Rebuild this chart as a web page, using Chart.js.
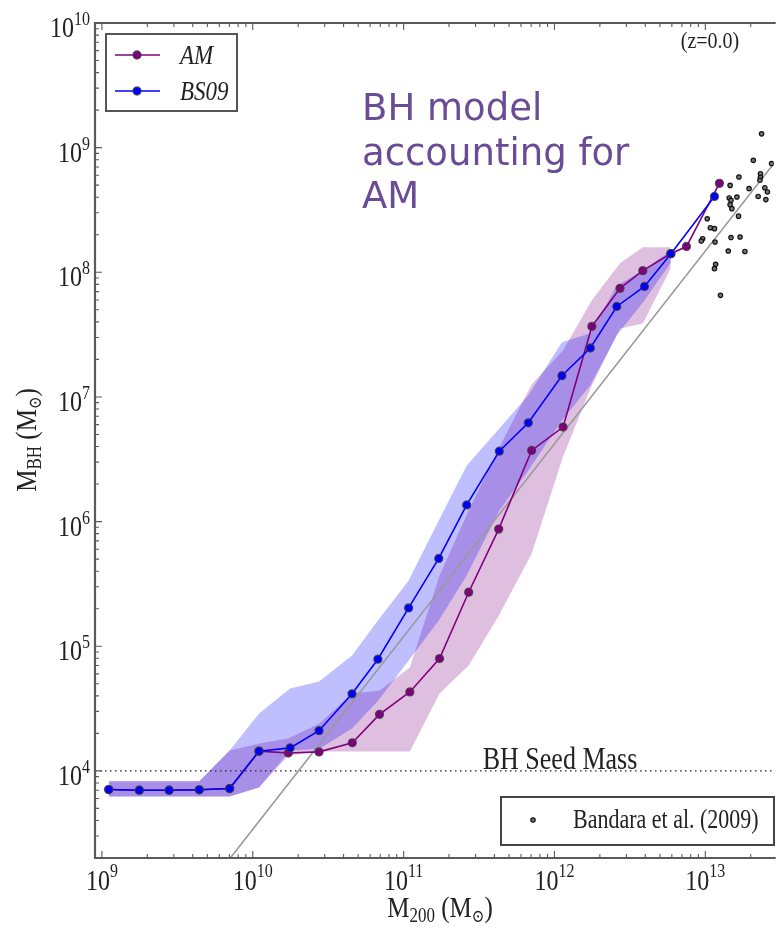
<!DOCTYPE html>
<html>
<head>
<meta charset="utf-8">
<script src="https://cdn.jsdelivr.net/npm/chart.js@4.4.0/dist/chart.umd.min.js"></script>
<style>
  html, body { margin: 0; padding: 0; background: #fff; }
  #wrap { position: relative; width: 779px; height: 929px; }
</style>
</head>
<body>
<div id="wrap"><canvas id="bhChart" width="779" height="929"></canvas></div>
<script>
// AM model (purple): halo mass, BH mass, and the shaded spread
const amMass = [1.11e9, 1.77e9, 2.79e9, 4.42e9, 7.03e9, 1.10e10, 1.72e10, 2.75e10, 4.57e10, 6.92e10, 1.10e11,
    1.73e11, 2.70e11, 4.27e11, 7.06e11, 1.14e12, 1.77e12, 2.72e12, 3.85e12, 5.89e12, 7.50e12, 1.24e13];
const amBH = [7080, 7000, 7000, 7050, 7210, 14400, 13900, 14200, 16800, 28400, 43000,
    79600, 2.71e5, 8.7e5, 3.72e6, 5.73e6, 3.68e7, 7.43e7, 1.03e8, 1.41e8, 1.61e8, 5.17e8];
const amLow = [6220, 6220, 6220, 6220, 6220, 7350, 13300, 14300, 14300, 14300, 14300,
    41700, 70000, 1.76e5, 5.53e5, 3.33e6, 1.24e7, 3.54e7, 3.88e7, 1.07e8];
const amHigh = [8260, 8260, 8260, 8260, 14600, 16600, 18200, 23900, 41700, 44100, 67500,
    3.69e5, 1.23e6, 3.86e6, 1.26e7, 2.37e7, 5.96e7, 1.18e8, 1.59e8, 1.59e8];

// BS09 model (blue)
const bsMass = [1.11e9, 1.77e9, 2.79e9, 4.42e9, 7.03e9, 1.10e10, 1.77e10, 2.75e10, 4.55e10, 6.75e10, 1.08e11,
    1.71e11, 2.62e11, 4.31e11, 6.71e11, 1.12e12, 1.73e12, 2.59e12, 3.95e12, 5.92e12, 1.15e13];
const bsBH = [7080, 7000, 7000, 7050, 7210, 14400, 15300, 21000, 41500, 78700, 2.03e5,
    5.06e5, 1.36e6, 3.67e6, 6.2e6, 1.48e7, 2.47e7, 5.32e7, 7.7e7, 1.41e8, 4.06e8];
const bsLow = [6220, 6220, 6220, 6220, 6220, 7350, 14600, 15000, 21900, 36300, 76700,
    1.61e5, 3.69e5, 1.23e6, 2.57e6, 6.47e6, 1.24e7, 3.12e7, 5.94e7, 1.2e8];
const bsHigh = [8260, 8260, 8260, 8260, 14600, 28800, 45800, 52100, 84300, 1.61e5, 3.37e5,
    1.02e6, 2.82e6, 5.58e6, 1.03e7, 2.74e7, 3.24e7, 7.85e7, 1.05e8, 1.51e8];

// Bandara et al. (2009) observations
const bandaraMass = [2.36e13, 2.08e13, 2.75e13, 1.67e13, 2.32e13, 2.32e13, 2.30e13, 1.46e13, 1.95e13, 2.48e13, 2.58e13,
    1.62e13, 1.44e13, 1.48e13, 2.24e13, 2.52e13, 1.46e13, 1.50e13, 1.66e13, 1.03e13, 1.08e13, 1.15e13,
    9.6e12, 9.4e12, 1.16e13, 1.48e13, 1.70e13, 1.42e13, 1.83e13, 1.17e13, 1.15e13, 1.26e13];
const bandaraBH = [1.29e9, 7.91e8, 7.45e8, 5.81e8, 6.18e8, 5.78e8, 5.47e8, 4.98e8, 4.69e8, 4.77e8, 4.41e8,
    4.02e8, 3.95e8, 3.78e8, 4.06e8, 3.83e8, 3.49e8, 3.24e8, 2.82e8, 2.69e8, 2.28e8, 2.24e8,
    1.86e8, 1.78e8, 1.75e8, 1.90e8, 1.92e8, 1.48e8, 1.47e8, 1.16e8, 1.07e8, 6.53e7];

// Bandara fit line end points and seed mass
const relMass = [7.1e9, 3.0e13];
const relBH = [2.0e3, 8.1e8];
const seedMass = [9e8, 3e13];
const seedBH = [1e4, 1e4];

const xTickExps = [9, 10, 11, 12, 13];
const yTickExps = [4, 5, 6, 7, 8, 9, 10];
const xMin = 9e8, xMax = 2.84e13, yMin = 2.0e3, yMax = 1e10;

const SERIF = "'Liberation Serif', 'DejaVu Serif', serif";
const STRETCH = 1.2;
const AM_COLOR = '#800080';
const BS_COLOR = '#0000ff';
const RING = 'rgba(60,60,60,0.8)';

function pts(xs, ys) {
    return ys.map((y, i) => ({ x: xs[i], y: y }));
}

// draw a run of text pieces (for sub/superscripts), slightly stretched vertically like the original
function richText(ctx, parts, x, y, align) {
    let w = 0;
    parts.forEach(p => {
        ctx.font = (p.italic ? 'italic ' : '') + p.size + 'px ' + SERIF;
        p.w = ctx.measureText(p.text).width;
        w += p.w;
    });
    let cx = align === 'right' ? x - w : (align === 'center' ? x - w / 2 : x);
    ctx.save();
    ctx.translate(0, y);
    ctx.scale(1, STRETCH);
    ctx.textAlign = 'left';
    ctx.textBaseline = 'alphabetic';
    parts.forEach(p => {
        ctx.font = (p.italic ? 'italic ' : '') + p.size + 'px ' + SERIF;
        ctx.fillText(p.text, cx, -(p.rise || 0) / STRETCH);
        cx += p.w;
    });
    ctx.restore();
}

function marker(ctx, x, y, fill) {
    ctx.beginPath();
    ctx.arc(x, y, 4, 0, Math.PI * 2);
    ctx.fillStyle = fill;
    ctx.fill();
    ctx.lineWidth = 1.3;
    ctx.strokeStyle = RING;
    ctx.stroke();
}

const axisFrame = {
    id: 'axisFrame',
    afterDraw(chart) {
        const ctx = chart.ctx;
        const a = chart.chartArea;
        const xs = chart.scales.x;
        const ys = chart.scales.y;
        ctx.save();

        // frame
        ctx.strokeStyle = '#5a5a5a';
        ctx.lineWidth = 2.2;
        ctx.beginPath();
        ctx.moveTo(a.right + 2, a.top);
        ctx.lineTo(a.left, a.top);
        ctx.lineTo(a.left, a.bottom);
        ctx.lineTo(a.right + 2, a.bottom);
        ctx.stroke();

        // tick marks
        ctx.lineWidth = 1.1;
        ctx.beginPath();
        for (let e = 8; e <= 13; e++) {
            for (let m = 1; m <= 9; m++) {
                const v = m * Math.pow(10, e);
                if (v < xMin || v > xMax) continue;
                const px = xs.getPixelForValue(v);
                const len = m === 1 ? 7 : 4;
                ctx.moveTo(px, a.bottom); ctx.lineTo(px, a.bottom - len);
                ctx.moveTo(px, a.top); ctx.lineTo(px, a.top + len);
            }
        }
        for (let e = 3; e <= 10; e++) {
            for (let m = 1; m <= 9; m++) {
                const v = m * Math.pow(10, e);
                if (v < yMin || v > yMax) continue;
                const py = ys.getPixelForValue(v);
                const len = m === 1 ? 7 : 4;
                ctx.moveTo(a.left, py); ctx.lineTo(a.left + len, py);
            }
        }
        ctx.stroke();

        // tick labels
        ctx.fillStyle = '#222';
        xTickExps.forEach(e => {
            const px = xs.getPixelForValue(Math.pow(10, e));
            richText(ctx, [{ text: '10', size: 24 }, { text: String(e), size: 16, rise: 13 }], px, a.bottom + 32, 'center');
        });
        yTickExps.forEach(e => {
            const py = ys.getPixelForValue(Math.pow(10, e));
            richText(ctx, [{ text: '10', size: 24 }, { text: String(e), size: 16, rise: 12 }], 90, py + 14, 'right');
        });

        // axis titles
        richText(ctx, [
            { text: 'M', size: 25 }, { text: '200', size: 17, rise: -5 },
            { text: ' (M', size: 25 }, { text: '\u2299', size: 15, rise: -5 }, { text: ')', size: 25 }
        ], 440, 917, 'center');
        ctx.save();
        ctx.translate(36, 440);
        ctx.rotate(-Math.PI / 2);
        richText(ctx, [
            { text: 'M', size: 25 }, { text: 'BH', size: 17, rise: -5 },
            { text: ' (M', size: 25 }, { text: '\u2299', size: 15, rise: -5 }, { text: ')', size: 25 }
        ], 0, 0, 'center');
        ctx.restore();

        // annotations
        richText(ctx, [{ text: 'BH Seed Mass', size: 26 }], 560, 769, 'center');
        richText(ctx, [{ text: '(z=0.0)', size: 20 }], 710, 48, 'center');

        // legend, upper left
        ctx.lineWidth = 2;
        ctx.strokeStyle = '#555';
        ctx.strokeRect(106, 34, 131, 77);
        [[AM_COLOR, 'AM', 55], [BS_COLOR, 'BS09', 91]].forEach(([c, label, ly]) => {
            ctx.strokeStyle = c;
            ctx.lineWidth = 1.5;
            ctx.beginPath();
            ctx.moveTo(115, ly); ctx.lineTo(160, ly);
            ctx.stroke();
            marker(ctx, 137, ly, c);
            ctx.fillStyle = '#222';
            richText(ctx, [{ text: label, size: 23, italic: true }], 180, ly + 9, 'left');
        });

        // legend, lower right
        ctx.lineWidth = 2;
        ctx.strokeStyle = '#444';
        ctx.strokeRect(501, 797, 273, 48);
        ctx.beginPath();
        ctx.arc(533, 820, 2.2, 0, Math.PI * 2);
        ctx.fillStyle = '#777';
        ctx.fill();
        ctx.lineWidth = 1.2;
        ctx.strokeStyle = '#111';
        ctx.stroke();
        ctx.fillStyle = '#222';
        richText(ctx, [{ text: 'Bandara et al. (2009)', size: 22 }], 573, 828, 'left');

        // overlaid caption
        ctx.fillStyle = '#6a4c96';
        ctx.font = "37px 'DejaVu Sans', sans-serif";
        ctx.textAlign = 'left';
        ctx.textBaseline = 'alphabetic';
        ctx.fillText('BH model', 362, 120);
        ctx.fillText('accounting for', 362, 165);
        ctx.fillText('AM', 362, 208);

        ctx.restore();
    }
};

const bandBase = {
    showLine: true,
    borderWidth: 0,
    borderColor: 'rgba(0,0,0,0)',
    pointRadius: 0,
    tension: 0
};

const chart = new Chart(document.getElementById('bhChart'), {
    type: 'line',
    data: {
        datasets: [
            {
                label: 'BS09',
                data: pts(bsMass, bsBH),
                borderColor: BS_COLOR,
                borderWidth: 1.6,
                pointRadius: 4,
                pointBackgroundColor: BS_COLOR,
                pointBorderColor: RING,
                pointBorderWidth: 1.3,
                fill: false
            },
            {
                label: 'AM',
                data: pts(amMass, amBH),
                borderColor: AM_COLOR,
                borderWidth: 1.6,
                pointRadius: 4,
                pointBackgroundColor: AM_COLOR,
                pointBorderColor: RING,
                pointBorderWidth: 1.3,
                fill: false
            },
            {
                label: 'Bandara et al. (2009)',
                data: pts(bandaraMass, bandaraBH),
                showLine: false,
                pointRadius: 2.2,
                pointBackgroundColor: '#777',
                pointBorderColor: '#111',
                pointBorderWidth: 1.2,
                fill: false
            },
            {
                label: 'fit',
                data: pts(relMass, relBH),
                borderColor: '#999',
                borderWidth: 1.6,
                pointRadius: 0,
                fill: false
            },
            {
                label: 'seed',
                data: pts(seedMass, seedBH),
                borderColor: '#222',
                borderWidth: 1.3,
                borderDash: [1.5, 3.5],
                pointRadius: 0,
                fill: false
            },
            Object.assign({ label: 'bsLow', data: pts(bsMass, bsLow), fill: false }, bandBase),
            Object.assign({ label: 'bsHigh', data: pts(bsMass, bsHigh), fill: '-1', backgroundColor: 'rgba(0,0,255,0.25)' }, bandBase),
            Object.assign({ label: 'amLow', data: pts(amMass, amLow), fill: false }, bandBase),
            Object.assign({ label: 'amHigh', data: pts(amMass, amHigh), fill: '-1', backgroundColor: 'rgba(128,0,128,0.25)' }, bandBase)
        ]
    },
    options: {
        responsive: false,
        animation: false,
        devicePixelRatio: 1,
        events: [],
        layout: { padding: { left: 95, top: 23, right: 0, bottom: 71 } },
        scales: {
            x: { type: 'logarithmic', min: xMin, max: xMax, bounds: 'data', display: false },
            y: { type: 'logarithmic', min: yMin, max: yMax, bounds: 'data', display: false }
        },
        plugins: {
            legend: { display: false },
            tooltip: { enabled: false },
            filler: { drawTime: 'beforeDatasetsDraw' }
        }
    },
    plugins: [axisFrame]
});
</script>
</body>
</html>
